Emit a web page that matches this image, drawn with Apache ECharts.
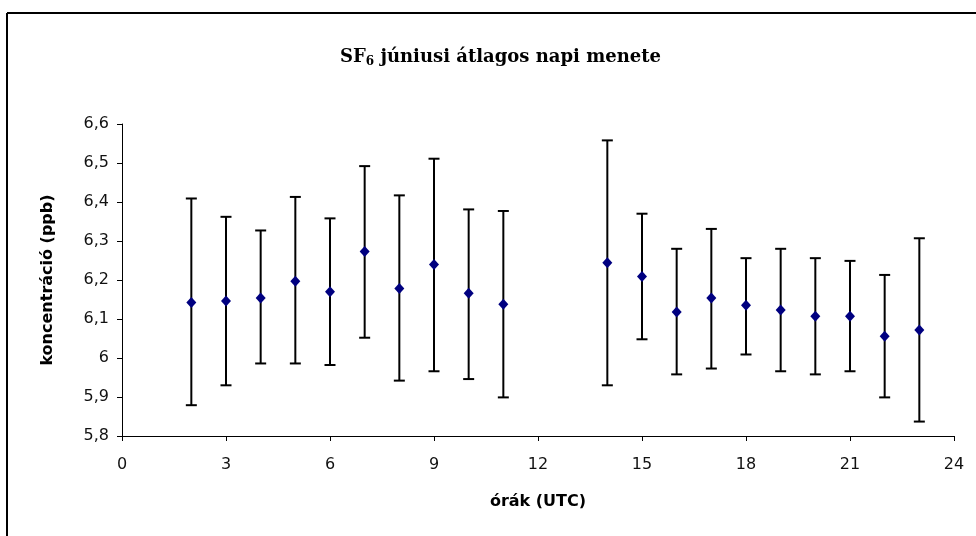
<!DOCTYPE html>
<html>
<head>
<meta charset="utf-8">
<script src="https://cdn.jsdelivr.net/npm/echarts@6/dist/echarts.min.js"></script>
<style>
html,body{margin:0;padding:0;background:#fff;}
#chart{width:976px;height:536px;}
</style>
</head>
<body>
<div id="chart"></div>
<script>
// hours (UTC)
var hours = [2, 3, 4, 5, 6, 7, 8, 9, 10, 11, 14, 15, 16, 17, 18, 19, 20, 21, 22, 23];
// mean concentration (ppb)
var means = [6.142, 6.146, 6.154, 6.197, 6.170, 6.273, 6.178, 6.240, 6.166, 6.138,
             6.244, 6.209, 6.118, 6.154, 6.135, 6.123, 6.107, 6.107, 6.056, 6.072];
// error bar upper ends
var upper = [6.409, 6.362, 6.327, 6.413, 6.358, 6.492, 6.417, 6.511, 6.381, 6.377,
             6.558, 6.370, 6.280, 6.331, 6.256, 6.280, 6.256, 6.249, 6.213, 6.307];
// error bar lower ends
var lower = [5.879, 5.930, 5.986, 5.986, 5.982, 6.052, 5.942, 5.966, 5.946, 5.899,
             5.930, 6.048, 5.958, 5.973, 6.009, 5.966, 5.958, 5.966, 5.899, 5.837];
var xTicks = [0, 3, 6, 9, 12, 15, 18, 21, 24];
var yTicks = ['5,8', '5,9', '6', '6,1', '6,2', '6,3', '6,4', '6,5', '6,6'];

var chart = echarts.init(document.getElementById('chart'), null, {renderer: 'canvas'});

var errData = hours.map(function (h, i) { return [h, lower[i], upper[i]]; });
var ptData = hours.map(function (h, i) { return [h, means[i]]; });

var option = {
  backgroundColor: '#fff',
  animation: false,
  graphic: [
    {type: 'line', shape: {x1: 7, y1: 13, x2: 976, y2: 13}, style: {stroke: '#000', lineWidth: 2}},
    {type: 'line', shape: {x1: 7, y1: 13, x2: 7, y2: 536}, style: {stroke: '#000', lineWidth: 2}}
  ],
  title: {
    text: '{a|SF}{s|6}{a| júniusi átlagos napi menete}',
    left: 335,
    top: 42,
    textStyle: {
      rich: {
        a: {fontFamily: 'DejaVu Serif', fontWeight: 'bold', fontSize: 18, color: '#000'},
        s: {fontFamily: 'DejaVu Serif', fontWeight: 'bold', fontSize: 12, color: '#000', verticalAlign: 'bottom', padding: [9, 0, 0, 0]}
      }
    }
  },
  grid: {left: 122, right: 22, top: 124, bottom: 100, containLabel: false},
  xAxis: {
    type: 'value',
    min: 0, max: 24, interval: 3,
    name: 'órák (UTC)',
    nameLocation: 'middle',
    nameGap: 58,
    nameTextStyle: {fontFamily: 'DejaVu Sans', fontWeight: 'bold', fontSize: 16, color: '#000'},
    axisLine: {show: true, lineStyle: {color: '#000', width: 1}},
    axisTick: {show: true, inside: false, length: 5, lineStyle: {color: '#000'}},
    axisLabel: {
      fontFamily: 'DejaVu Sans', fontSize: 16, color: '#111', margin: 21,
      formatter: function (v) { return xTicks.indexOf(v) >= 0 ? String(v) : ''; }
    },
    splitLine: {show: false}
  },
  yAxis: {
    type: 'value',
    min: 5.8, max: 6.6, interval: 0.1,
    name: 'koncentráció (ppb)',
    nameLocation: 'middle',
    nameGap: 66,
    nameRotate: 90,
    nameTextStyle: {fontFamily: 'DejaVu Sans', fontWeight: 'bold', fontSize: 16, color: '#000'},
    axisLine: {show: true, lineStyle: {color: '#000', width: 1}},
    axisTick: {show: true, inside: false, length: 5, lineStyle: {color: '#000'}},
    axisLabel: {
      fontFamily: 'DejaVu Sans', fontSize: 16, color: '#111', margin: 13,
      formatter: function (v) { return yTicks[Math.round((v - 5.8) * 10)]; }
    },
    splitLine: {show: false}
  },
  series: [
    {
      type: 'custom',
      data: errData,
      renderItem: function (params, api) {
        var x = api.value(0);
        var lo = api.coord([x, api.value(1)]);
        var hi = api.coord([x, api.value(2)]);
        var w = 5.5;
        var st = {stroke: '#000', lineWidth: 2};
        return {
          type: 'group',
          children: [
            {type: 'line', shape: {x1: hi[0], y1: hi[1], x2: lo[0], y2: lo[1]}, style: st},
            {type: 'line', shape: {x1: hi[0] - w, y1: hi[1], x2: hi[0] + w, y2: hi[1]}, style: st},
            {type: 'line', shape: {x1: lo[0] - w, y1: lo[1], x2: lo[0] + w, y2: lo[1]}, style: st}
          ]
        };
      },
      z: 1
    },
    {
      type: 'scatter',
      data: ptData,
      symbol: 'diamond',
      symbolSize: [10, 11],
      itemStyle: {color: '#000080', opacity: 1},
      z: 3
    }
  ]
};
chart.setOption(option);
</script>
</body>
</html>
